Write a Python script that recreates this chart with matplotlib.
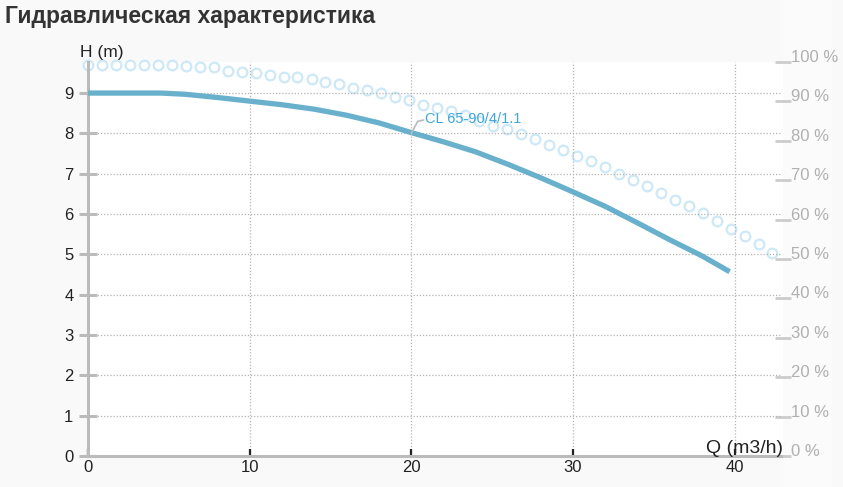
import matplotlib
matplotlib.use("Agg")
import matplotlib.pyplot as plt
from matplotlib.patches import Rectangle

plt.rcParams['font.family'] = ['Liberation Sans', 'DejaVu Sans']

# Напор насоса H(Q)
q_head = [0, 2, 4.5, 6, 8, 10, 12, 14, 16, 18, 20, 22, 24, 26, 28, 30, 32, 34, 36, 38, 39.7]
h_head = [9.0, 9.0, 9.0, 8.97, 8.89, 8.80, 8.71, 8.60, 8.45, 8.26, 8.02, 7.79, 7.54,
          7.23, 6.90, 6.55, 6.19, 5.78, 5.36, 4.96, 4.57]

# КПД (%), точки-кружки
q_eff = [0.0, 0.86, 1.73, 2.59, 3.46, 4.32, 5.19, 6.05, 6.91, 7.78,
         8.64, 9.51, 10.37, 11.24, 12.10, 12.96, 13.83, 14.69, 15.56, 16.42,
         17.29, 18.15, 19.01, 19.88, 20.74, 21.61, 22.47, 23.34, 24.20, 25.06,
         25.93, 26.79, 27.66, 28.52, 29.39, 30.25, 31.11, 31.98, 32.84, 33.71,
         34.57, 35.44, 36.30, 37.16, 38.03, 38.89, 39.76, 40.62, 41.49, 42.35]
eff = [99.3, 99.3, 99.3, 99.3, 99.3, 99.3, 99.3, 98.9, 98.7, 98.7,
       97.8, 97.4, 97.2, 96.7, 96.2, 96.2, 95.6, 94.8, 94.3, 93.4,
       93.0, 92.2, 91.1, 90.3, 89.2, 88.2, 87.5, 86.5, 85.0, 83.7,
       82.9, 81.6, 80.4, 78.9, 77.6, 76.1, 74.8, 73.3, 71.5, 70.0,
       68.5, 66.7, 64.9, 63.4, 61.6, 59.6, 57.6, 55.8, 53.8, 51.6]

x_ticks = [0, 10, 20, 30, 40]
h_ticks = [0, 1, 2, 3, 4, 5, 6, 7, 8, 9]
eff_ticks = [0, 10, 20, 30, 40, 50, 60, 70, 80, 90, 100]
pump_name = "CL 65-90/4/1.1"

fig = plt.figure(figsize=(8.43, 4.87), dpi=100)
fig.patch.set_facecolor("#f9f9f9")
fig.patches.append(Rectangle((783 / 843, 0), 49 / 843, 1, transform=fig.transFigure,
                             facecolor="#fbfbfb", edgecolor="none", zorder=-5))

ax = fig.add_axes([88 / 843, 31 / 487, 695 / 843, 394 / 487])
ax.set_xlim(0, 43)
ax.set_ylim(0, 9.77)

# сетка
for x in x_ticks[1:]:
    ax.axvline(x, color="#b5b5b5", lw=0.9, ls=(0, (1, 1.5)), zorder=1)
for y in h_ticks[1:]:
    ax.plot([0, 42.8], [y, y], color="#b5b5b5", lw=0.9, ls=(0, (1, 1.5)), zorder=1)

ax.plot(q_head, h_head, color="#68b0cc", lw=3.8, solid_capstyle="butt", zorder=4)

for s in ["top", "right"]:
    ax.spines[s].set_visible(False)
ax.spines["left"].set_color("#bbbbbb")
ax.spines["left"].set_linewidth(2.2)
ax.spines["bottom"].set_color("#bbbbbb")
ax.spines["bottom"].set_linewidth(2.2)
ax.spines["bottom"].set_bounds(0, 42.9)

ax.set_xticks(x_ticks)
ax.set_yticks(h_ticks)
ax.tick_params(axis="x", direction="in", length=5, width=1.6, color="#222222",
               labelsize=12, labelcolor="#222222", pad=3)
ax.tick_params(axis="y", direction="inout", length=13, width=2.2, color="#bbbbbb",
               labelsize=12, labelcolor="#222222", pad=4)
for t in ax.get_xticklines() + ax.get_yticklines():
    t.set_zorder(6)

ax.text(-0.5, 9.9, "H (m)", fontsize=12.5, color="#222222", ha="left", va="baseline",
        clip_on=False)
ax.text(43.0, 0.07, "Q (m3/h)", fontsize=14, color="#222222", ha="right", va="baseline",
        clip_on=False, zorder=7)

# подпись насоса
ax.plot([20.0, 20.4, 20.75], [8.0, 8.3, 8.33], color="#bbbbbb", lw=1.2, zorder=5)
ax.text(20.85, 8.35, pump_name, fontsize=10.5, color="#3fa7d9", ha="left", va="center",
        zorder=5)

# правая ось КПД
ax2 = ax.twinx()
ax2.set_ylim(0, 100)
ax2.set_xlim(0, 43)
ax2.plot(q_eff, eff, ls="none", marker="o", ms=7, mfc="white", mec="#cde8f6", mew=1.6,
         zorder=3, clip_on=False)
for s in ["top", "left", "bottom", "right"]:
    ax2.spines[s].set_visible(False)
ax2.set_yticks(eff_ticks)
ax2.set_yticklabels([f"{v} %" for v in eff_ticks])
ax2.tick_params(axis="y", direction="inout", length=12, width=2, color="#cccccc",
                labelsize=12, labelcolor="#b0b0b0", pad=0)
for lab in ax2.get_yticklabels():
    lab.set_verticalalignment("baseline")
ax.set_zorder(ax2.get_zorder() + 1)
ax.patch.set_visible(False)
ax2.patch.set_visible(True)
ax2.patch.set_facecolor("white")

fig.text(5 / 843, 1 - 16 / 487, "Гидравлическая характеристика", fontsize=16.5,
         fontweight="bold", color="#333333", ha="left", va="center")

fig.savefig("out.png", dpi=100, facecolor=fig.get_facecolor())
